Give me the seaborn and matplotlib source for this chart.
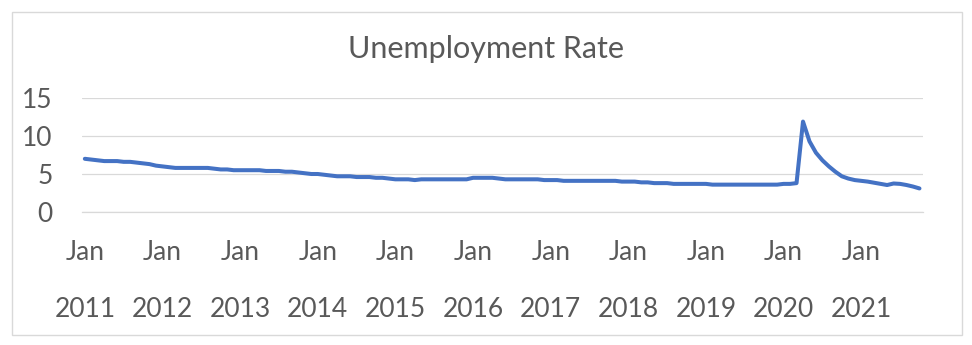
import numpy as np
import pandas as pd
import matplotlib
matplotlib.use("Agg")
import matplotlib.pyplot as plt
import seaborn as sns
from matplotlib.patches import Rectangle

# ---- data ----
title = "Unemployment Rate"
years = ["2011", "2012", "2013", "2014", "2015", "2016",
         "2017", "2018", "2019", "2020", "2021"]
month_label = "Jan"
rate_2011 = [7.0, 6.9, 6.8, 6.7, 6.7, 6.7, 6.6, 6.6, 6.5, 6.4, 6.3, 6.1]
rate_2012 = [6.0, 5.9, 5.8, 5.8, 5.8, 5.8, 5.8, 5.8, 5.7, 5.6, 5.6, 5.5]
rate_2013 = [5.5, 5.5, 5.5, 5.5, 5.4, 5.4, 5.4, 5.3, 5.3, 5.2, 5.1, 5.0]
rate_2014 = [5.0, 4.9, 4.8, 4.7, 4.7, 4.7, 4.6, 4.6, 4.6, 4.5, 4.5, 4.4]
rate_2015 = [4.3, 4.3, 4.3, 4.2, 4.3, 4.3, 4.3, 4.3, 4.3, 4.3, 4.3, 4.3]
rate_2016 = [4.5, 4.5, 4.5, 4.5, 4.4, 4.3, 4.3, 4.3, 4.3, 4.3, 4.3, 4.2]
rate_2017 = [4.2, 4.2, 4.1, 4.1, 4.1, 4.1, 4.1, 4.1, 4.1, 4.1, 4.1, 4.0]
rate_2018 = [4.0, 4.0, 3.9, 3.9, 3.8, 3.8, 3.8, 3.7, 3.7, 3.7, 3.7, 3.7]
rate_2019 = [3.7, 3.6, 3.6, 3.6, 3.6, 3.6, 3.6, 3.6, 3.6, 3.6, 3.6, 3.6]
rate_2020 = [3.7, 3.7, 3.8, 11.9, 9.3, 7.8, 6.8, 6.0, 5.3, 4.7, 4.4, 4.2]
rate_2021 = [4.1, 4.0, 3.85, 3.7, 3.55, 3.75, 3.7, 3.55, 3.35, 3.1]
yticks = [0, 5, 10, 15]

rates = (rate_2011 + rate_2012 + rate_2013 + rate_2014 + rate_2015 + rate_2016 +
         rate_2017 + rate_2018 + rate_2019 + rate_2020 + rate_2021)

# ---- style ----
sns.set_theme(style="white")
plt.rcParams['font.family'] = ['Lato', 'DejaVu Sans']
text_color = "#595959"
grid_color = "#D9D9D9"

W, H = 972, 345
fig = plt.figure(figsize=(W / 100, H / 100), dpi=100)
left_px, right_px, top_px, bottom_px = 81.6, 922.7, 98, 212
ax = fig.add_axes([left_px / W, (H - bottom_px) / H,
                   (right_px - left_px) / W, (bottom_px - top_px) / H])

df = pd.DataFrame({"month": np.arange(len(rates)), "rate": rates})
sns.lineplot(data=df, x="month", y="rate", ax=ax, color="#4472C4",
             linewidth=2.9, solid_joinstyle="round", solid_capstyle="round")

ax.set_xlim(-0.5, len(rates) - 0.5)
ax.set_ylim(0, 15)
ax.set_yticks(yticks)
ax.set_yticklabels([str(v) for v in yticks])
ax.yaxis.grid(True, color=grid_color, lw=0.9)
ax.xaxis.grid(False)
ax.set_axisbelow(True)
for s in ["top", "right", "left"]:
    ax.spines[s].set_visible(False)
ax.spines["bottom"].set_color(grid_color)
ax.spines["bottom"].set_linewidth(0.9)

boundaries = [12 * k - 0.5 for k in range(len(years))]
ax.set_xticks(boundaries)
ax.set_xticklabels([])
ax.tick_params(axis="x", length=83, width=0.9, color=grid_color, direction="out")
ax.tick_params(axis="y", length=0, pad=21, labelsize=19, labelcolor=text_color)
ax.set_xlabel("")
ax.set_ylabel("")

trans = ax.get_xaxis_transform()
for k, yr in enumerate(years):
    ax.text(12 * k, -0.42, month_label, transform=trans, ha="center",
            va="baseline", fontsize=19, color=text_color, clip_on=False)
    ax.text(12 * k, -0.92, yr, transform=trans, ha="center",
            va="baseline", fontsize=19, color=text_color, clip_on=False)

fig.text(486 / W, 1 - 58 / H, title, ha="center", va="baseline",
         fontsize=22, color=text_color)

fig.patches.append(Rectangle((12 / W, 1 - 335 / H), 950 / W, 323 / H,
                             transform=fig.transFigure, fill=False,
                             edgecolor=grid_color, lw=1))

fig.savefig("out.png", dpi=100)
